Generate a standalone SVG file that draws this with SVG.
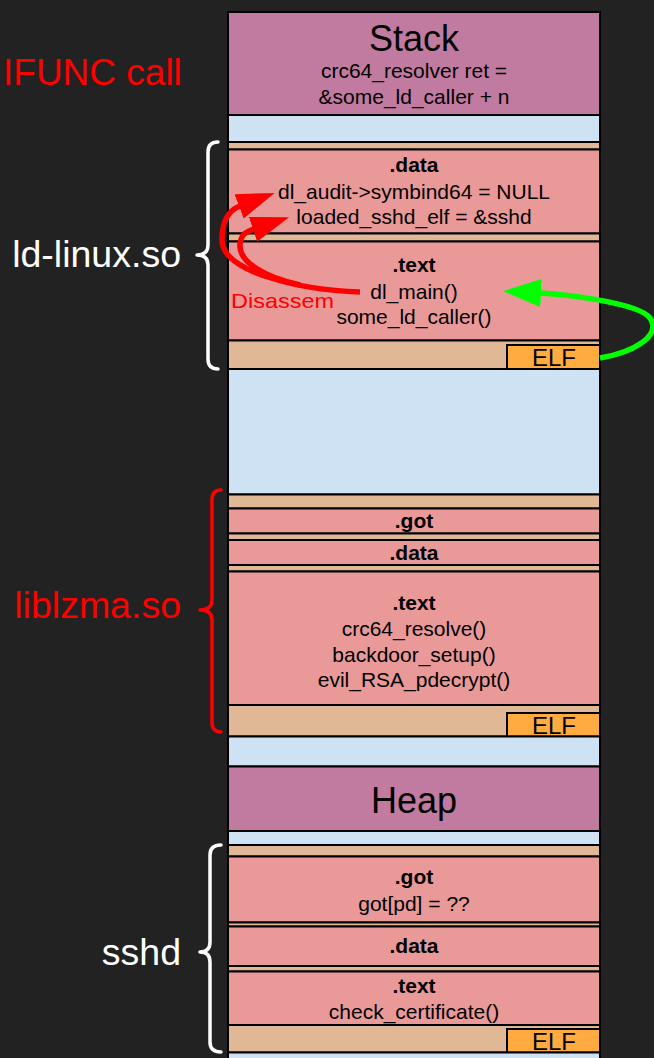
<svg xmlns="http://www.w3.org/2000/svg" width="654" height="1058" viewBox="0 0 654 1058">
<defs>
<style>
.sec{stroke:#000;stroke-width:2}
.stk{fill:#c27ba0}
.blue{fill:#cfe2f3}
.tan{fill:#e0b896}
.pink{fill:#ea9999}
.elf{fill:#ffab40}
text{font-family:"Liberation Sans",Arial,sans-serif}
.t{font-size:21px;fill:#000;text-anchor:middle}
.b{font-weight:bold}
.big{font-size:36px}
.ef{font-size:24px;fill:#000;text-anchor:middle}
.lbl{font-size:37.5px;text-anchor:end}
.brace{fill:none;stroke-width:3.5;stroke-linecap:round;stroke-linejoin:round}
.arr{fill:none;stroke-width:5.5;stroke-linecap:butt}
</style>
<marker id="ahRed" markerUnits="userSpaceOnUse" viewBox="0 0 38 26" markerWidth="38" markerHeight="26" refX="1" refY="13" orient="auto">
<path d="M0,0 L38,13 L0,26 Z" fill="#ff0000"/>
</marker>
<marker id="ahGreen" markerUnits="userSpaceOnUse" viewBox="0 0 38 28" markerWidth="38" markerHeight="28" refX="1" refY="14" orient="auto">
<path d="M0,0 L38,14 L0,28 Z" fill="#00ff00"/>
</marker>
</defs>
<rect x="0" y="0" width="654" height="1058" fill="#222222"/>

<g id="stack">
<rect class="sec stk" x="228" y="12" width="372" height="103"/>
<text class="t big" x="414" y="51">Stack</text>
<text class="t" x="414" y="78">crc64_resolver ret =</text>
<text class="t" x="414" y="104">&amp;some_ld_caller + n</text>
</g>
<g id="gap1"><rect class="sec blue" x="228" y="115" width="372" height="27"/></g>

<g id="ld-linux">
<rect class="sec tan" x="228" y="142" width="372" height="7.5"/>
<g id="ld-data">
<rect class="sec pink" x="228" y="149.5" width="372" height="84"/>
<text class="t b" x="414" y="172">.data</text>
<text class="t" x="414" y="199">dl_audit-&gt;symbind64 = NULL</text>
<text class="t" x="414" y="224">loaded_sshd_elf = &amp;sshd</text>
</g>
<rect class="sec tan" x="228" y="233.5" width="372" height="8"/>
<g id="ld-text">
<rect class="sec pink" x="228" y="241.5" width="372" height="99"/>
<text class="t b" x="414" y="272">.text</text>
<text class="t" x="414" y="299">dl_main()</text>
<text class="t" x="414" y="324">some_ld_caller()</text>
</g>
<rect class="sec tan" x="228" y="340.5" width="372" height="28.5"/>
<g id="ld-elf">
<rect class="sec elf" x="507" y="345" width="93" height="24"/>
<text class="ef" x="554" y="366">ELF</text>
</g>
</g>
<g id="gap2"><rect class="sec blue" x="228" y="369" width="372" height="125.5"/></g>

<g id="liblzma">
<rect class="sec tan" x="228" y="494.5" width="372" height="14"/>
<g id="lz-got">
<rect class="sec pink" x="228" y="508.5" width="372" height="25"/>
<text class="t b" x="414" y="528">.got</text>
</g>
<rect class="sec tan" x="228" y="533.5" width="372" height="6.5"/>
<g id="lz-data">
<rect class="sec pink" x="228" y="540" width="372" height="25"/>
<text class="t b" x="414" y="560">.data</text>
</g>
<rect class="sec tan" x="228" y="565" width="372" height="6.5"/>
<g id="lz-text">
<rect class="sec pink" x="228" y="571.5" width="372" height="133.5"/>
<text class="t b" x="414" y="610">.text</text>
<text class="t" x="414" y="636">crc64_resolve()</text>
<text class="t" x="414" y="662">backdoor_setup()</text>
<text class="t" x="414" y="687">evil_RSA_pdecrypt()</text>
</g>
<rect class="sec tan" x="228" y="705" width="372" height="31.5"/>
<g id="lz-elf">
<rect class="sec elf" x="507" y="713" width="93" height="23.5"/>
<text class="ef" x="554" y="734">ELF</text>
</g>
</g>
<g id="gap3"><rect class="sec blue" x="228" y="736.5" width="372" height="30"/></g>

<g id="heap">
<rect class="sec stk" x="228" y="766.5" width="372" height="64.5"/>
<text class="t big" x="414" y="813">Heap</text>
</g>
<g id="gap4"><rect class="sec blue" x="228" y="831" width="372" height="14"/></g>

<g id="sshd">
<rect class="sec tan" x="228" y="845" width="372" height="11.5"/>
<g id="sshd-got">
<rect class="sec pink" x="228" y="856.5" width="372" height="66"/>
<text class="t b" x="414" y="884">.got</text>
<text class="t" x="414" y="911">got[pd] = ??</text>
</g>
<rect class="sec tan" x="228" y="922.5" width="372" height="4"/>
<g id="sshd-data">
<rect class="sec pink" x="228" y="926.5" width="372" height="39.5"/>
<text class="t b" x="414" y="953">.data</text>
</g>
<rect class="sec tan" x="228" y="966" width="372" height="5.5"/>
<g id="sshd-text">
<rect class="sec pink" x="228" y="971.5" width="372" height="53.5"/>
<text class="t b" x="414" y="993">.text</text>
<text class="t" x="414" y="1019">check_certificate()</text>
</g>
<rect class="sec tan" x="228" y="1025" width="372" height="27.5"/>
<g id="sshd-elf">
<rect class="sec elf" x="507" y="1029" width="93" height="23.5"/>
<text class="ef" x="554" y="1050">ELF</text>
</g>
</g>
<g id="gap5"><rect class="sec blue" x="228" y="1052.5" width="372" height="8"/></g>

<g id="braces">
<path class="brace" stroke="#ffffff" d="M218 142 Q208 142 208 152 L208 245 Q208 255 197 255 Q208 255 208 265 L208 359 Q208 369 218 369"/>
<path class="brace" stroke="#ff0000" d="M221 490 Q212 490 212 500 L212 600 Q212 610 200 610 Q212 610 212 620 L212 722 Q212 732 221 732"/>
<path class="brace" stroke="#ffffff" d="M221 845 Q210 845 210 855 L210 942 Q210 952 200 952 Q210 952 210 962 L210 1042 Q210 1052 221 1052"/>
</g>

<g id="labels">
<text x="3" y="85" font-size="37" fill="#ff0000">IFUNC call</text>
<text class="lbl" x="181" y="267" fill="#ffffff">ld-linux.so</text>
<text class="lbl" x="181" y="618" fill="#ff0000">liblzma.so</text>
<text class="lbl" x="181" y="965" fill="#ffffff">sshd</text>
</g>

<g id="connectors">
<path class="arr" stroke="#ff0000" marker-end="url(#ahRed)" d="M360 292 C300 290 222 272 222 240 C222 222 228 210.5 240 206"/>
<path class="arr" stroke="#ff0000" marker-end="url(#ahRed)" d="M300 285 C265 277 238 262 240 244 C241 235 245 232 254 229"/>
<text x="231" y="308" font-size="21" fill="#ff0000" textLength="103" lengthAdjust="spacingAndGlyphs">Disassem</text>
<path class="arr" stroke="#00ff00" marker-end="url(#ahGreen)" d="M600 358 C635 352 662 335 650 318 C638 302 560 294 540 293"/>
</g>
</svg>
